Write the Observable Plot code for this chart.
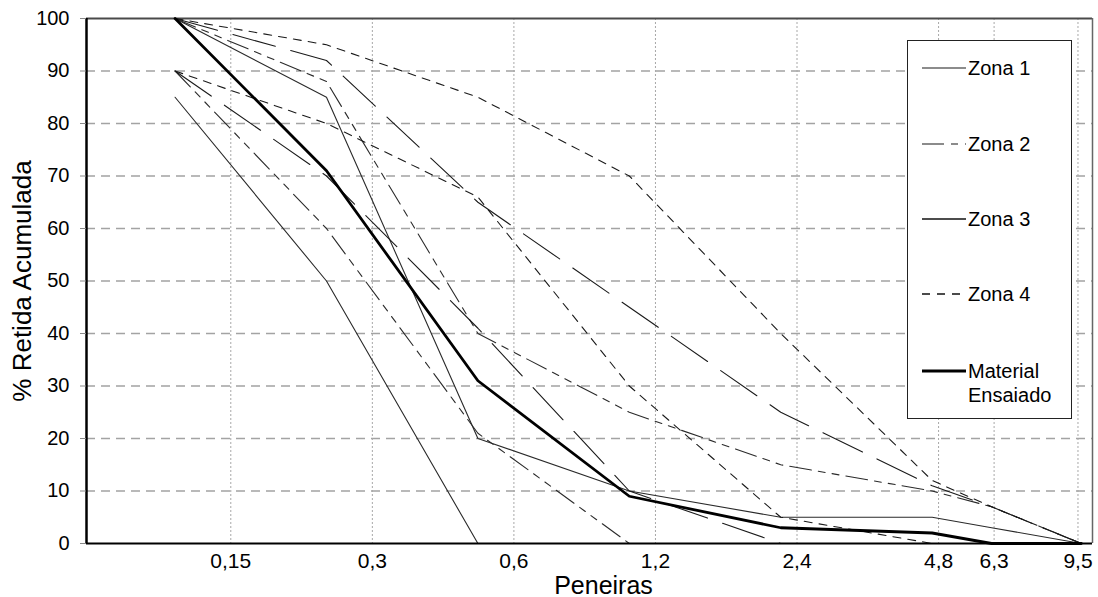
<!DOCTYPE html>
<html><head><meta charset="utf-8">
<script src="https://cdn.jsdelivr.net/npm/d3@7"></script>
<script src="https://cdn.jsdelivr.net/npm/@observablehq/plot@0.6"></script>
<style>
html,body{margin:0;padding:0;background:#fff;}
#wrap{position:relative;width:1098px;height:597px;font-family:"Liberation Sans",Arial,sans-serif;color:#000;}
#legend{position:absolute;left:907px;top:40px;width:163px;height:377px;border:1.5px solid #222;background:#fff;}
.item{position:absolute;left:0;width:160px;font-size:20px;line-height:24px;}
.item svg{position:absolute;left:14px;}
.item span{position:absolute;left:60px;}
</style></head><body><div id="wrap"></div>
<script>
// Sieve openings (mm) and axis labels
const sieves = [0.15, 0.3, 0.6, 1.2, 2.4, 4.8, 6.3, 9.5];
const tickLabels = ["0,15", "0,3", "0,6", "1,2", "2,4", "4,8", "6,3", "9,5"];
const yTicks = [0, 10, 20, 30, 40, 50, 60, 70, 80, 90, 100];

// % retida acumulada, ordered as sieves (null = not drawn)
const zona1Inf = [85, 50, 0, null, null, null, null, null];
const zona1Sup = [100, 85, 20, 10, 5, 5, 3, 0];
const zona2Inf = [90, 60, 21, 0, null, null, null, null];
const zona2Sup = [100, 88, 40, 25, 15, 10, 7, 0];
const zona3Inf = [90, 70, 41, 10, 0, null, null, null];
const zona3Sup = [100, 92, 65, 45, 25, 11, 7, 0];
const zona4Inf = [90, 80, 66, 30, 5, 0, null, null];
const zona4Sup = [100, 95, 85, 70, 40, 12, 7, 0];
const material = [100, 71, 31, 9, 3, 2, 0, 0];

// data scale and the (offset) secondary category axis, both log, spanning the frame
const dataDomain = [0.1, 10];
const axisDomain = [0.074, 10.2];
function onAxis(t) {
  const f = Math.log(t / axisDomain[0]) / Math.log(axisDomain[1] / axisDomain[0]);
  return dataDomain[0] * Math.pow(dataDomain[1] / dataDomain[0], f);
}

const styles = {
  z1: {stroke: "#2a2a2a", strokeWidth: 1.1, strokeDasharray: null, legend: "#666"},
  z2: {stroke: "#2a2a2a", strokeWidth: 1.1, strokeDasharray: "22,7,7,7,7,7", legend: "#666"},
  z3: {stroke: "#1a1a1a", strokeWidth: 1.1, strokeDasharray: "44,16", legend: "#111"},
  z4: {stroke: "#1a1a1a", strokeWidth: 1.1, strokeDasharray: "8,7", legend: "#111"},
  mat: {stroke: "#000", strokeWidth: 2.8, strokeDasharray: null, legend: "#000"}
};

const seriesList = [
  {name: "z1inf", style: "z1", values: zona1Inf},
  {name: "z1sup", style: "z1", values: zona1Sup},
  {name: "z2inf", style: "z2", values: zona2Inf},
  {name: "z2sup", style: "z2", values: zona2Sup},
  {name: "z3inf", style: "z3", values: zona3Inf},
  {name: "z3sup", style: "z3", values: zona3Sup},
  {name: "z4inf", style: "z4", values: zona4Inf},
  {name: "z4sup", style: "z4", values: zona4Sup},
  {name: "mat", style: "mat", values: material}
];

const lineMarks = seriesList.map(s => {
  const rows = s.values.map((v, i) => ({x: sieves[i], y: v})).filter(d => d.y !== null);
  const st = styles[s.style];
  const opts = {x: "x", y: "y", stroke: st.stroke, strokeWidth: st.strokeWidth};
  if (st.strokeDasharray) opts.strokeDasharray = st.strokeDasharray;
  return Plot.line(rows, opts);
});

const ticks = sieves.map((s, i) => ({pos: onAxis(s), label: tickLabels[i]}));

const chart = Plot.plot({
  width: 1098,
  height: 597,
  marginLeft: 86,
  marginRight: 6,
  marginTop: 18,
  marginBottom: 54,
  style: {fontFamily: "'Liberation Sans', Arial, sans-serif", fontSize: "20px", background: "white", color: "black"},
  x: {type: "log", domain: dataDomain, axis: null},
  y: {domain: [0, 100], axis: null},
  marks: [
    Plot.ruleY(yTicks.filter(v => v > 0 && v < 100), {stroke: "#a3a3a3", strokeWidth: 1.5, strokeDasharray: "9,6"}),
    Plot.ruleX(ticks, {x: "pos", stroke: "#a8a8a8", strokeWidth: 1, strokeDasharray: "2,2"}),
    Plot.ruleY([100], {stroke: "#4a4a4a", strokeWidth: 2}),
    Plot.ruleX([dataDomain[1]], {stroke: "#666", strokeWidth: 1.5}),
    ...lineMarks,
    Plot.ruleY([0], {stroke: "#000", strokeWidth: 2}),
    Plot.ruleX([dataDomain[0]], {stroke: "#000", strokeWidth: 2.5}),
    Plot.axisY({ticks: yTicks, tickSize: 6, tickPadding: 11, fontSize: 20, stroke: "#888", fill: "#000", label: null}),
    Plot.text(ticks, {x: "pos", y: 0, text: "label", dy: 18, fontSize: 21, lineAnchor: "middle", textAnchor: "middle", fill: "#000"}),
    Plot.text(["% Retida Acumulada"], {frameAnchor: "left", rotate: -90, dx: -64, textAnchor: "middle", lineAnchor: "middle", fontSize: 26}),
    Plot.text(["Peneiras"], {frameAnchor: "bottom", dx: 14, dy: 42, textAnchor: "middle", lineAnchor: "middle", fontSize: 25})
  ]
});

const wrap = document.getElementById("wrap");
wrap.appendChild(chart);

// Legend overlay
const legendItems = [
  {label: ["Zona 1"], style: "z1", top: 15},
  {label: ["Zona 2"], style: "z2", top: 91},
  {label: ["Zona 3"], style: "z3", top: 166},
  {label: ["Zona 4"], style: "z4", top: 241},
  {label: ["Material", "Ensaiado"], style: "mat", top: 318}
];
const legend = document.createElement("div");
legend.id = "legend";
legendItems.forEach(it => {
  const st = styles[it.style];
  const div = document.createElement("div");
  div.className = "item";
  div.style.top = it.top + "px";
  const dash = st.strokeDasharray ? `stroke-dasharray="${st.strokeDasharray}"` : "";
  div.innerHTML = `<svg width="44" height="24" style="top:0"><line x1="0" x2="44" y1="12" y2="12" stroke="${st.legend}" stroke-width="${it.style === 'mat' ? 3 : 1.5}" ${dash}/></svg>` +
    `<span style="top:0">${it.label.join("<br>")}</span>`;
  legend.appendChild(div);
});
wrap.appendChild(legend);
</script></body></html>
